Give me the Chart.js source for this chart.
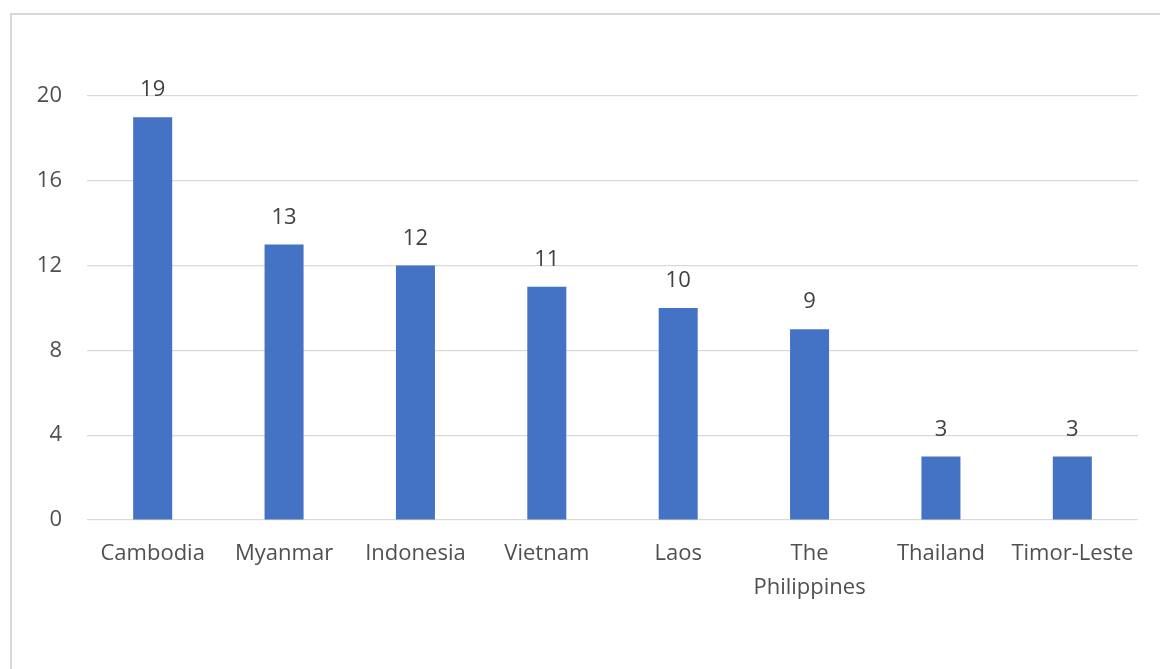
<!DOCTYPE html>
<html>
<head>
<meta charset="utf-8">
<script src="https://cdn.jsdelivr.net/npm/chart.js@4.4.1/dist/chart.umd.min.js"></script>
<style>
  html, body { margin: 0; padding: 0; background: #fff; }
  #wrap { position: relative; width: 1160px; height: 669px; }
</style>
</head>
<body>
<div id="wrap"><canvas id="c" width="1160" height="669"></canvas></div>
<script>
const categories = ['Cambodia', 'Myanmar', 'Indonesia', 'Vietnam', 'Laos', ['The', 'Philippines'], 'Thailand', 'Timor-Leste'];
const values = [19, 13, 12, 11, 10, 9, 3, 3];
const yTicks = [0, 4, 8, 12, 16, 20];

const FONT = '"Open Sans", sans-serif';
const TEXT = '#595959';

const frame = {
  id: 'frame',
  beforeDraw(chart) {
    const ctx = chart.ctx;
    ctx.save();
    ctx.strokeStyle = '#d9d9d9';
    ctx.lineWidth = 2;
    ctx.strokeRect(11, 14, 1300, 800);
    ctx.restore();
  }
};

const dataLabels = {
  id: 'dataLabels',
  afterDatasetsDraw(chart) {
    const ctx = chart.ctx;
    const meta = chart.getDatasetMeta(0);
    ctx.save();
    ctx.font = '22px ' + FONT;
    ctx.fillStyle = '#404040';
    ctx.textAlign = 'center';
    ctx.textBaseline = 'middle';
    meta.data.forEach((bar, i) => {
      ctx.fillText(String(values[i]), bar.x, bar.y - 27);
    });
    ctx.restore();
  }
};

new Chart(document.getElementById('c'), {
  type: 'bar',
  data: {
    labels: categories,
    datasets: [{
      data: values,
      backgroundColor: '#4472C4',
      borderWidth: 0,
      barPercentage: 0.6,
      categoryPercentage: 0.495
    }]
  },
  options: {
    responsive: false,
    animation: false,
    devicePixelRatio: 1,
    layout: { padding: { top: 96, right: 22, left: 0, bottom: 0 } },
    plugins: { legend: { display: false }, tooltip: { enabled: false } },
    scales: {
      x: {
        grid: { display: false, drawTicks: false },
        border: { display: false },
        ticks: {
          color: '#505050',
          font: { family: FONT, size: 22, lineHeight: 1.55 },
          padding: 17,
          maxRotation: 0,
          autoSkip: false
        },
        afterFit(axis) { axis.height = 149; }
      },
      y: {
        min: 0, max: 20,
        grid: { color: '#d9d9d9', lineWidth: 1.2, drawTicks: false },
        border: { display: false },
        afterBuildTicks(axis) { axis.ticks = yTicks.map(v => ({ value: v })); },
        ticks: {
          color: '#505050',
          font: { family: FONT, size: 22 },
          padding: 25
        },
        afterFit(axis) { axis.width = 87; }
      }
    }
  },
  plugins: [frame, dataLabels]
});
</script>
</body>
</html>
